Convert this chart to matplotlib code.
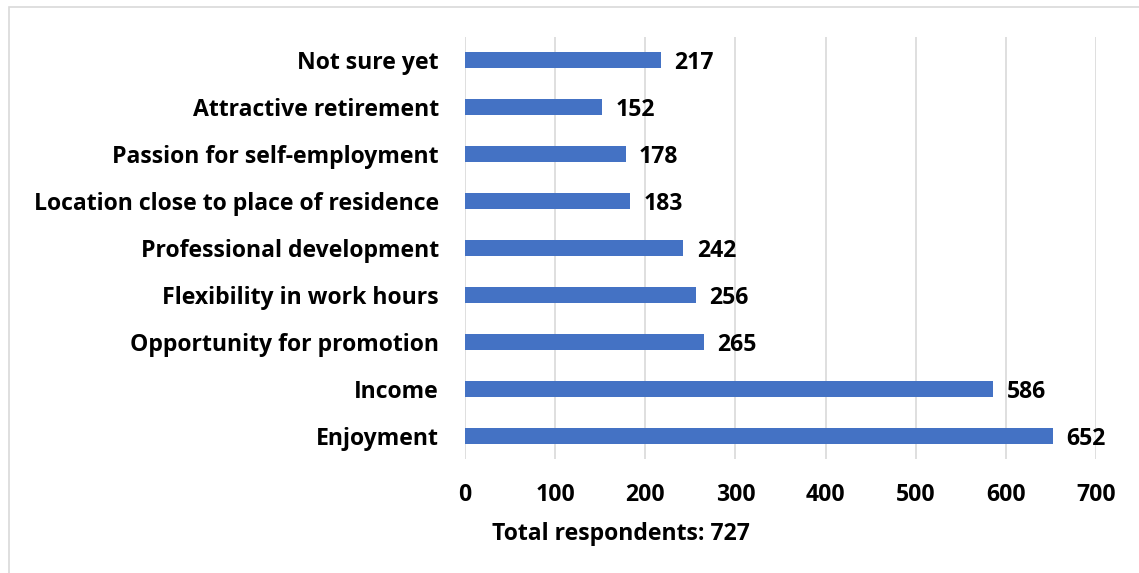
import matplotlib.pyplot as plt
from matplotlib.patches import Rectangle

categories = ['Enjoyment', 'Income', 'Opportunity for promotion', 'Flexibility in work hours',
              'Professional development', 'Location close to place of residence',
              'Passion for self-employment', 'Attractive retirement', 'Not sure yet']
values = [652, 586, 265, 256, 242, 183, 178, 152, 217]
xticks = [0, 100, 200, 300, 400, 500, 600, 700]
xlabel = 'Total respondents: 727'

plt.rcParams['font.family'] = ['Open Sans', 'DejaVu Sans']
plt.rcParams['font.weight'] = 'bold'
fs = 16.6

fig = plt.figure(figsize=(11.39, 5.73), dpi=100)
ax = fig.add_axes([0.4083, 0.1981, 0.554, 0.7382])

fig.patches.append(Rectangle((9 / 1139, -0.1), 1.2, 1 - 7 / 573 + 0.1, transform=fig.transFigure,
                             fill=False, edgecolor='#D9D9D9', linewidth=1.2))

y = range(len(categories))
ax.barh(y, values, height=0.34, color='#4472C4', zorder=3)
for yi, v in zip(y, values):
    ax.text(v + 15, yi, str(v), va='center_baseline', ha='left', fontsize=fs, fontweight='bold')

ax.set_xlim(0, 700)
ax.set_ylim(-0.5, len(categories) - 0.5)
ax.set_yticks(list(y))
ax.set_yticklabels(categories, fontsize=fs, fontweight='bold')
ax.set_xticks(xticks)
ax.set_xticklabels([str(t) for t in xticks], fontsize=fs, fontweight='bold')
ax.tick_params(axis='y', length=0, pad=19)
ax.tick_params(axis='x', length=0, pad=17)
ax.grid(axis='x', color='#D9D9D9', linewidth=1.2, zorder=0)
for s in ax.spines.values():
    s.set_visible(False)
ax.set_xlabel(xlabel, fontsize=fs, fontweight='bold')
ax.xaxis.set_label_coords(0.247, -0.148)

fig.savefig('out.png', dpi=100)
